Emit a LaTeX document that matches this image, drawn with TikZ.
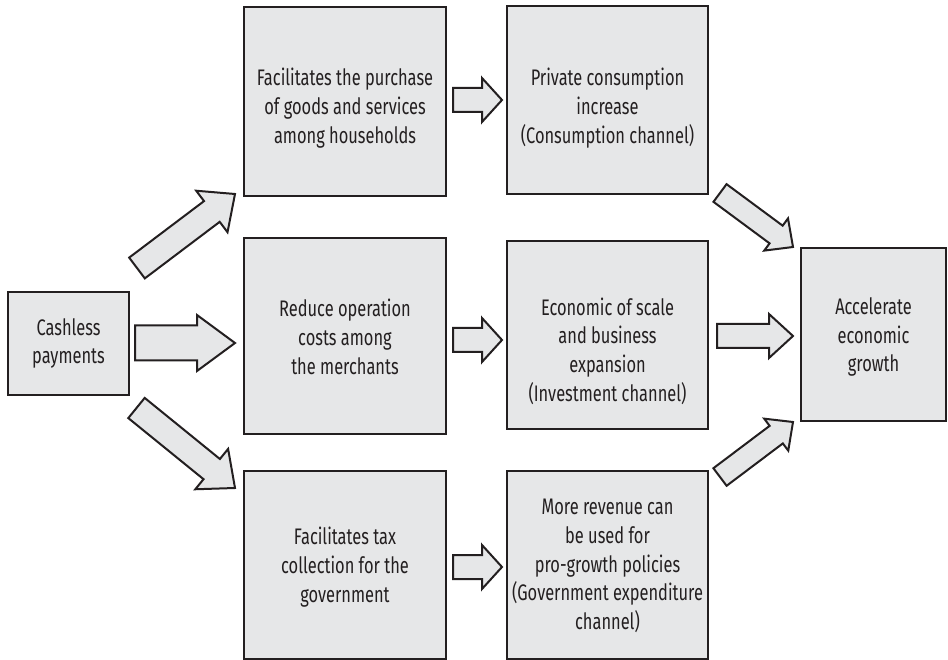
\documentclass[tikz,border=0pt]{standalone}
\usepackage{fontspec}
\setmainfont[FakeStretch=0.73]{Fira Sans}
\usetikzlibrary{calc}
\definecolor{boxfill}{HTML}{E6E7E8}
\definecolor{linec}{HTML}{231F20}
\tikzset{
  box/.style={draw=linec, fill=boxfill, line width=2.2pt, inner sep=0pt},
  lbl/.style={align=center, font=\fontsize{22.5}{28.7}\selectfont, inner sep=0pt, text=linec},
  barrow/.style={draw=linec, fill=boxfill, line width=2pt, line join=miter},
}
% #1 tail, #2 tip, #3 shaft half width, #4 head half width, #5 head length
\newcommand\blockarrow[5]{%
  \coordinate (bah) at ($(#2)!#5pt!(#1)$);
  \draw[barrow] ($(#1)!#3pt!90:(#2)$) -- ($(bah)!#3pt!90:(#2)$) -- ($(bah)!#4pt!90:(#2)$)
     -- (#2) -- ($(bah)!#4pt!-90:(#2)$) -- ($(bah)!#3pt!-90:(#2)$) -- ($(#1)!#3pt!-90:(#2)$) -- cycle;
}
\begin{document}
\begin{tikzpicture}[x=1pt,y=-1pt]
\useasboundingbox (0,0) rectangle (948,660);
% boxes
\node[box, minimum width=121pt, minimum height=103pt] (cash) at (68.5,343.5) {};
\node[box, minimum width=202pt, minimum height=189pt] (c2t) at (345,101.5) {};
\node[box, minimum width=202pt, minimum height=196pt] (c2m) at (345,336) {};
\node[box, minimum width=202pt, minimum height=188pt] (c2b) at (345,565) {};
\node[box, minimum width=201pt, minimum height=188pt] (c3t) at (607.5,100) {};
\node[box, minimum width=201pt, minimum height=188pt] (c3m) at (607.5,335) {};
\node[box, minimum width=201pt, minimum height=188pt] (c3b) at (607.5,565) {};
\node[box, minimum width=145pt, minimum height=173pt] (acc) at (873.5,334.5) {};
% texts
\node[lbl] (tcash) at (68.5,343.5) {Cashless\\payments};
\node[lbl] (tc2t) at (345,108) {Facilitates the purchase\\of goods and services\\among households};
\node[lbl] (tc2m) at (345,337) {Reduce operation\\costs among\\the merchants};
\node[lbl] (tc2b) at (345,567) {Facilitates tax\\collection for the\\government};
\node[lbl] (tc3t) at (607.5,108) {Private consumption\\increase\\(Consumption channel)};
\node[lbl] (tc3m) at (607.5,351) {Economic of scale\\and business\\expansion\\(Investment channel)};
\node[lbl] (tc3b) at (607.5,566) {More revenue can\\be used for\\pro-growth policies\\(Government expenditure\\channel)};
\node[lbl] (tacc) at (873.5,337) {Accelerate\\economic\\growth};
% arrow end points
\coordinate (a1s) at (137,268); \coordinate (a1e) at (235,194);
\coordinate (a2s) at (135,343); \coordinate (a2e) at (235,343);
\coordinate (a3s) at (136.5,408); \coordinate (a3e) at (235,488);
\coordinate (a4s) at (453,100); \coordinate (a4e) at (502,100);
\coordinate (a5s) at (453,340); \coordinate (a5e) at (502,340);
\coordinate (a6s) at (453,567); \coordinate (a6e) at (502,567);
\coordinate (a7s) at (720,193); \coordinate (a7e) at (793,247);
\coordinate (a8s) at (717,336); \coordinate (a8e) at (793,336);
\coordinate (a9s) at (720,477); \coordinate (a9e) at (793,422);
\blockarrow{a1s}{a1e}{13}{26}{29}
\blockarrow{a2s}{a2e}{17.5}{28}{38}
\blockarrow{a3s}{a3e}{13}{26}{30}
\blockarrow{a4s}{a4e}{12}{22}{20}
\blockarrow{a5s}{a5e}{12}{22}{20}
\blockarrow{a6s}{a6e}{12}{22}{20}
\blockarrow{a7s}{a7e}{11}{20}{21}
\blockarrow{a8s}{a8e}{12}{22}{24}
\blockarrow{a9s}{a9e}{11}{20}{21}
\end{tikzpicture}
\end{document}
